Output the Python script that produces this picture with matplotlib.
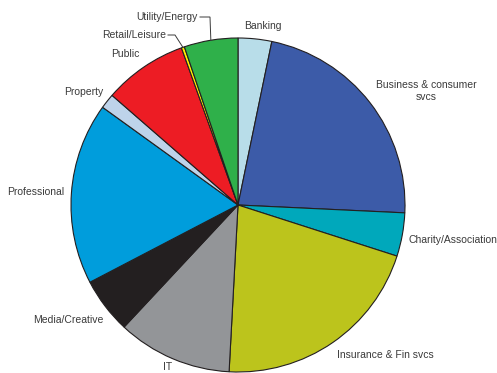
import numpy as np
import matplotlib
matplotlib.use("Agg")
import matplotlib.pyplot as plt

plt.rcParams['font.family'] = ['Liberation Sans', 'DejaVu Sans']

# sector shares (%), clockwise from 12 o'clock
sectors = ["Banking", "Business & consumer\nsvcs", "Charity/Association",
           "Insurance & Fin svcs", "IT", "Media/Creative", "Professional",
           "Property", "Public", "Retail/Leisure", "Utility/Energy"]
shares = [3.25, 22.5, 4.2, 20.9, 11.1, 5.4, 17.6, 1.45, 8.1, 0.3, 5.2]
colors = ["#b8dde9", "#3c5ba8", "#00a8bb", "#bcc41c", "#939598", "#231f20",
          "#009ddc", "#bed3ea", "#ed1c24", "#fff200", "#2fb04a"]

W, H = 497, 373
cx, cy, r = 238, H - 205, 167

# label positions in pixel coords (x, y from top), alignment
label_pos = {
    "Banking": (263, 26, "center"),
    "Business & consumer\nsvcs": (426, 91, "center"),
    "Charity/Association": (453, 240, "center"),
    "Insurance & Fin svcs": (385, 355, "center"),
    "IT": (168, 367, "center"),
    "Media/Creative": (68, 320, "center"),
    "Professional": (36, 192, "center"),
    "Property": (84, 92, "center"),
    "Public": (125, 54, "center"),
    "Retail/Leisure": (166, 35, "right"),
    "Utility/Energy": (198, 17, "right"),
}
leaders = {"Retail/Leisure": 175, "Utility/Energy": 210}

fig = plt.figure(figsize=(W / 100, H / 100), dpi=100)
ax = fig.add_axes([0, 0, 1, 1])
wedges, _ = ax.pie(shares, colors=colors, startangle=90, counterclock=False,
                   center=(cx, cy), radius=r,
                   wedgeprops=dict(edgecolor="#231f20", linewidth=0.8))
ax.set_xlim(0, W)
ax.set_ylim(0, H)
ax.set_aspect("auto")
ax.axis("off")

for name, w in zip(sectors, wedges):
    x, y, ha = label_pos[name]
    ax.text(x, H - y, name, ha=ha, va="center", fontsize=7.5,
            color="#3a3a3a", linespacing=1.3)
    if name in leaders:
        mid = np.deg2rad((w.theta1 + w.theta2) / 2)
        ex, ey = cx + r * np.cos(mid), cy + r * np.sin(mid)
        lx = leaders[name]
        ax.plot([x + 2, lx, ex], [H - y, H - y, ey], color="#3a3a3a",
                lw=0.7, solid_joinstyle="miter")

fig.savefig("out.png", dpi=100)
